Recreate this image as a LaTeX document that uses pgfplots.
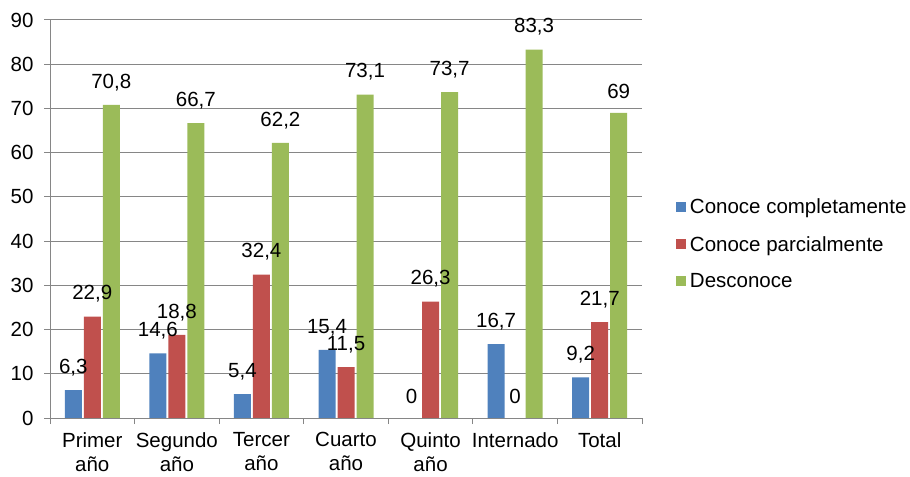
\documentclass[border=0pt]{standalone}
\usepackage{pgfplots}
\pgfplotsset{compat=1.18}
\usepackage{fontspec}
\setmainfont{Liberation Sans}
\definecolor{cblue}{RGB}{79,129,189}
\definecolor{cred}{RGB}{192,80,77}
\definecolor{cgreen}{RGB}{155,187,89}
\definecolor{ggray}{RGB}{134,134,134}
\newcommand\cf{\fontsize{20.5bp}{24bp}\selectfont}
\begin{document}
\begin{tikzpicture}
\path[use as bounding box] (0,0) rectangle (910bp,477bp);
\begin{axis}[
  at={(50bp,59bp)}, anchor=south west,
  scale only axis, width=592bp, height=398bp,
  ybar=2bp, bar width=17bp,
  xmin=-0.5, xmax=6.5, ymin=0, ymax=90,
  ytick={0,10,...,90},
  xtick={-0.5,0.5,...,6.5},
  x tick label as interval,
  xticklabels={Primer\\año, Segundo\\año, Tercer\\año, Cuarto\\año, Quinto\\año, Internado, Total},
  xticklabel style={align=center, font=\cf, text=black, yshift=-5bp},
  yticklabel style={font=\cf, text=black, xshift=-7bp},
  axis x line*=bottom, axis y line*=left,
  axis line style={-, draw=ggray, line width=1bp},
  xtick pos=bottom, ytick pos=left,
  tick align=outside, major tick length=6bp,
  tick style={draw=ggray, line width=1bp},
  ymajorgrids, grid style={draw=ggray, line width=1bp},
  /pgf/number format/.cd, use comma, 1000 sep={}, assume math mode=true,
  /pgfplots/.cd,
  nodes near coords,
  every node near coord/.append style={font=\cf, text=black, inner sep=2bp, yshift=12bp},
  legend image code/.code={\fill[#1] (0bp,-5bp) rectangle (10bp,5bp);},
  legend style={draw=none, fill=none, at={(1.057,0.437)}, anchor=west,
    font=\cf, row sep=21bp, inner sep=0pt, nodes={inner ysep=0pt, inner xsep=4bp}},
  legend cell align=left,
]
\addplot[fill=cblue, draw=none] coordinates {(0,6.3)(1,14.6)(2,5.4)(3,15.4)(4,0)(5,16.7)(6,9.2)};
\addplot[fill=cred, draw=none] coordinates {(0,22.9)(1,18.8)(2,32.4)(3,11.5)(4,26.3)(5,0)(6,21.7)};
\addplot[fill=cgreen, draw=none] coordinates {(0,70.8)(1,66.7)(2,62.2)(3,73.1)(4,73.7)(5,83.3)(6,69)};
\legend{Conoce completamente, Conoce parcialmente, Desconoce}
\end{axis}
\end{tikzpicture}
\end{document}
